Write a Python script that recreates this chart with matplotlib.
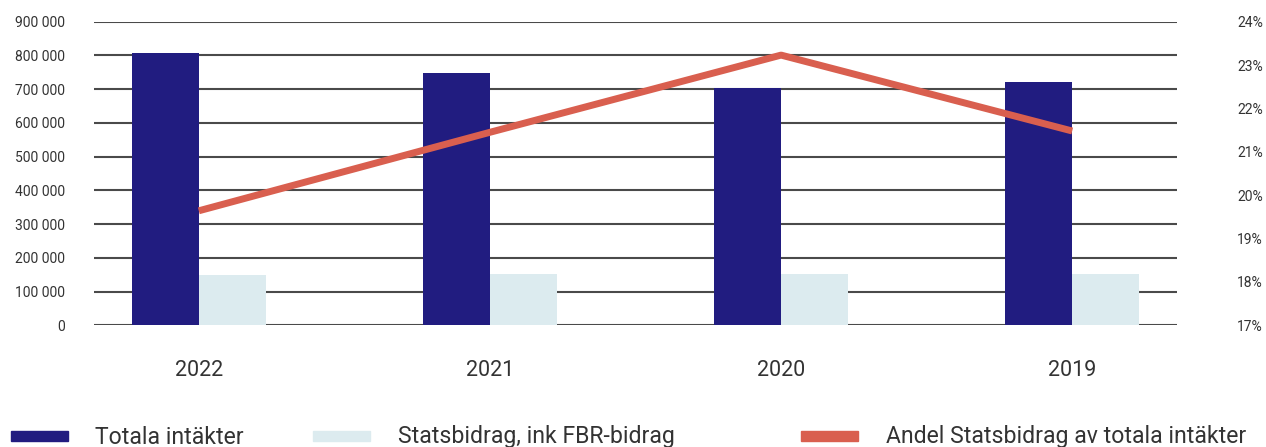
import numpy as np
import matplotlib
matplotlib.use("Agg")
import matplotlib.pyplot as plt
from matplotlib.patches import Rectangle

years = ["2022", "2021", "2020", "2019"]
totala = [807000, 748000, 703000, 721000]
statsbidrag = [149000, 151000, 152000, 152000]
andel = [19.64, 21.45, 23.23, 21.48]

dark = "#211c80"
light = "#dcebef"
red = "#d95f4f"
txt = "#333333"

plt.rcParams['font.family'] = ['Roboto', 'DejaVu Sans']

fig = plt.figure(figsize=(12.66, 4.47), dpi=100)
ax = fig.add_axes([94/1266, 1-325.3/447, (1177-94)/1266, (325.3-21.7)/447])

x = np.arange(len(years))
w = 0.23
ax.bar(x - w/2, totala, w, color=dark, zorder=3)
ax.bar(x + w/2, statsbidrag, w, color=light, zorder=3)

ax.set_xlim(-0.36, 3.36)
ax.set_ylim(0, 900000)
ax.set_yticks(np.arange(0, 900001, 100000))
ax.set_yticklabels([f"{v:,}".replace(",", " ") if v else "0" for v in range(0, 900001, 100000)])
ax.yaxis.grid(True, color="#4a4a4a", linewidth=1.5, zorder=0)
ax.set_axisbelow(True)
for s in ax.spines.values():
    s.set_visible(False)
ax.tick_params(axis="y", length=0, pad=21, labelsize=10, labelcolor=txt)
ax.set_xticks(x)
ax.set_xticklabels(years)
ax.tick_params(axis="x", length=0, pad=25, labelsize=15.5, labelcolor=txt)

ax2 = ax.twinx()
ax2.plot(x, andel, color=red, linewidth=5, solid_capstyle="butt", zorder=4)
ax2.set_ylim(17, 24)
ax2.set_yticks(range(17, 25))
ax2.set_yticklabels([f"{v}%" for v in range(17, 25)])
for s in ax2.spines.values():
    s.set_visible(False)
ax2.tick_params(axis="y", length=0, pad=62, labelsize=10, labelcolor=txt)
for lab in ax2.get_yticklabels():
    lab.set_horizontalalignment("right")

# legend
legend_items = [(11, 95, dark, "Totala intäkter"),
                (313, 398, light, "Statsbidrag, ink FBR-bidrag"),
                (801, 886, red, "Andel Statsbidrag av totala intäkter")]
for px, tx, col, label in legend_items:
    fig.patches.append(Rectangle((px/1266, 1-441/447), 57/1266, 10/447,
                                 transform=fig.transFigure, color=col))
    fig.text(tx/1266, 1-437/447, label, fontsize=16.6, color=txt, va="center", ha="left")

fig.savefig("out.png", dpi=100)
